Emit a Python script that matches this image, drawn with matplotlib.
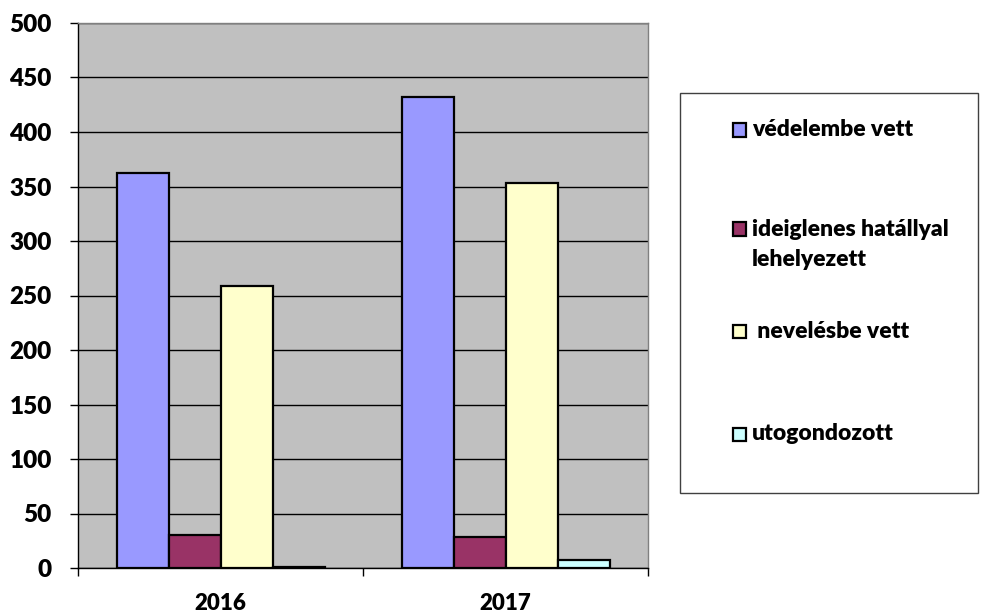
import matplotlib
matplotlib.use("Agg")
import matplotlib.pyplot as plt
from matplotlib.patches import Rectangle
import numpy as np

years = ["2016", "2017"]
series = ["védelembe vett", "ideiglenes hatállyal\nlehelyezett", " nevelésbe vett", "utogondozott"]
values = {
    "védelembe vett": [362, 432],
    "ideiglenes hatállyal\nlehelyezett": [30, 28],
    " nevelésbe vett": [259, 353],
    "utogondozott": [1, 7],
}
colors = ["#9999FF", "#993366", "#FFFFCC", "#CCFFFF"]
yticks = [0, 50, 100, 150, 200, 250, 300, 350, 400, 450, 500]

plt.rcParams['font.family'] = ['Lato', 'DejaVu Sans']
W, H = 1004, 612
fig = plt.figure(figsize=(W/100, H/100), dpi=100)
ax = fig.add_axes([78/W, (H-568)/H, 570/W, 545/H])
ax.set_facecolor("#C0C0C0")

x = np.arange(len(years))
bw = 52/285
n = len(series)
for i, s in enumerate(series):
    off = (i - (n-1)/2) * bw
    ax.bar(x + off, values[s], width=bw, color=colors[i], edgecolor="black",
           linewidth=1.6, zorder=3)

ax.set_xlim(-0.5, 1.5)
ax.set_ylim(0, 500)
ax.set_yticks(yticks)
ax.set_yticklabels([str(v) for v in yticks], fontsize=17.5, fontweight="heavy")
ax.yaxis.grid(True, color="black", linewidth=1.0, zorder=0)
ax.set_axisbelow(True)
ax.tick_params(axis="y", length=5.8, width=1, pad=13)

ax.set_xticks(x)
ax.set_xticklabels(years, fontsize=16, fontweight="heavy")
ax.tick_params(axis="x", which="major", length=0, pad=18)
ax.set_xticks([-0.5, 0.5, 1.5], minor=True)
ax.tick_params(axis="x", which="minor", length=6, width=1)

for sp in ["left", "bottom"]:
    ax.spines[sp].set_color("black")
    ax.spines[sp].set_linewidth(1.0)
for sp in ["top", "right"]:
    ax.spines[sp].set_color("#808080")
    ax.spines[sp].set_linewidth(1.0)

# legend box
fig.patches.append(Rectangle((680/W, 1-493/H), 298/W, 400/H, transform=fig.transFigure,
                             facecolor="white", edgecolor="#404040", linewidth=1.0))
ys = [130, 229, 331, 434]
for i, s in enumerate(series):
    ty = ys[i]
    fig.patches.append(Rectangle((733/W, 1-(ty+6.5)/H), 13/W, 13/H, transform=fig.transFigure,
                                 facecolor=colors[i], edgecolor="black", linewidth=1.6))
    fig.text(752/W, 1-ty/H, s.split("\n")[0], fontsize=16.5, fontweight="heavy",
             va="center", ha="left")
    if "\n" in s:
        fig.text(752/W, 1-260/H, s.split("\n")[1], fontsize=16.5, fontweight="heavy",
                 va="center", ha="left")

fig.savefig("out.png", dpi=100)
